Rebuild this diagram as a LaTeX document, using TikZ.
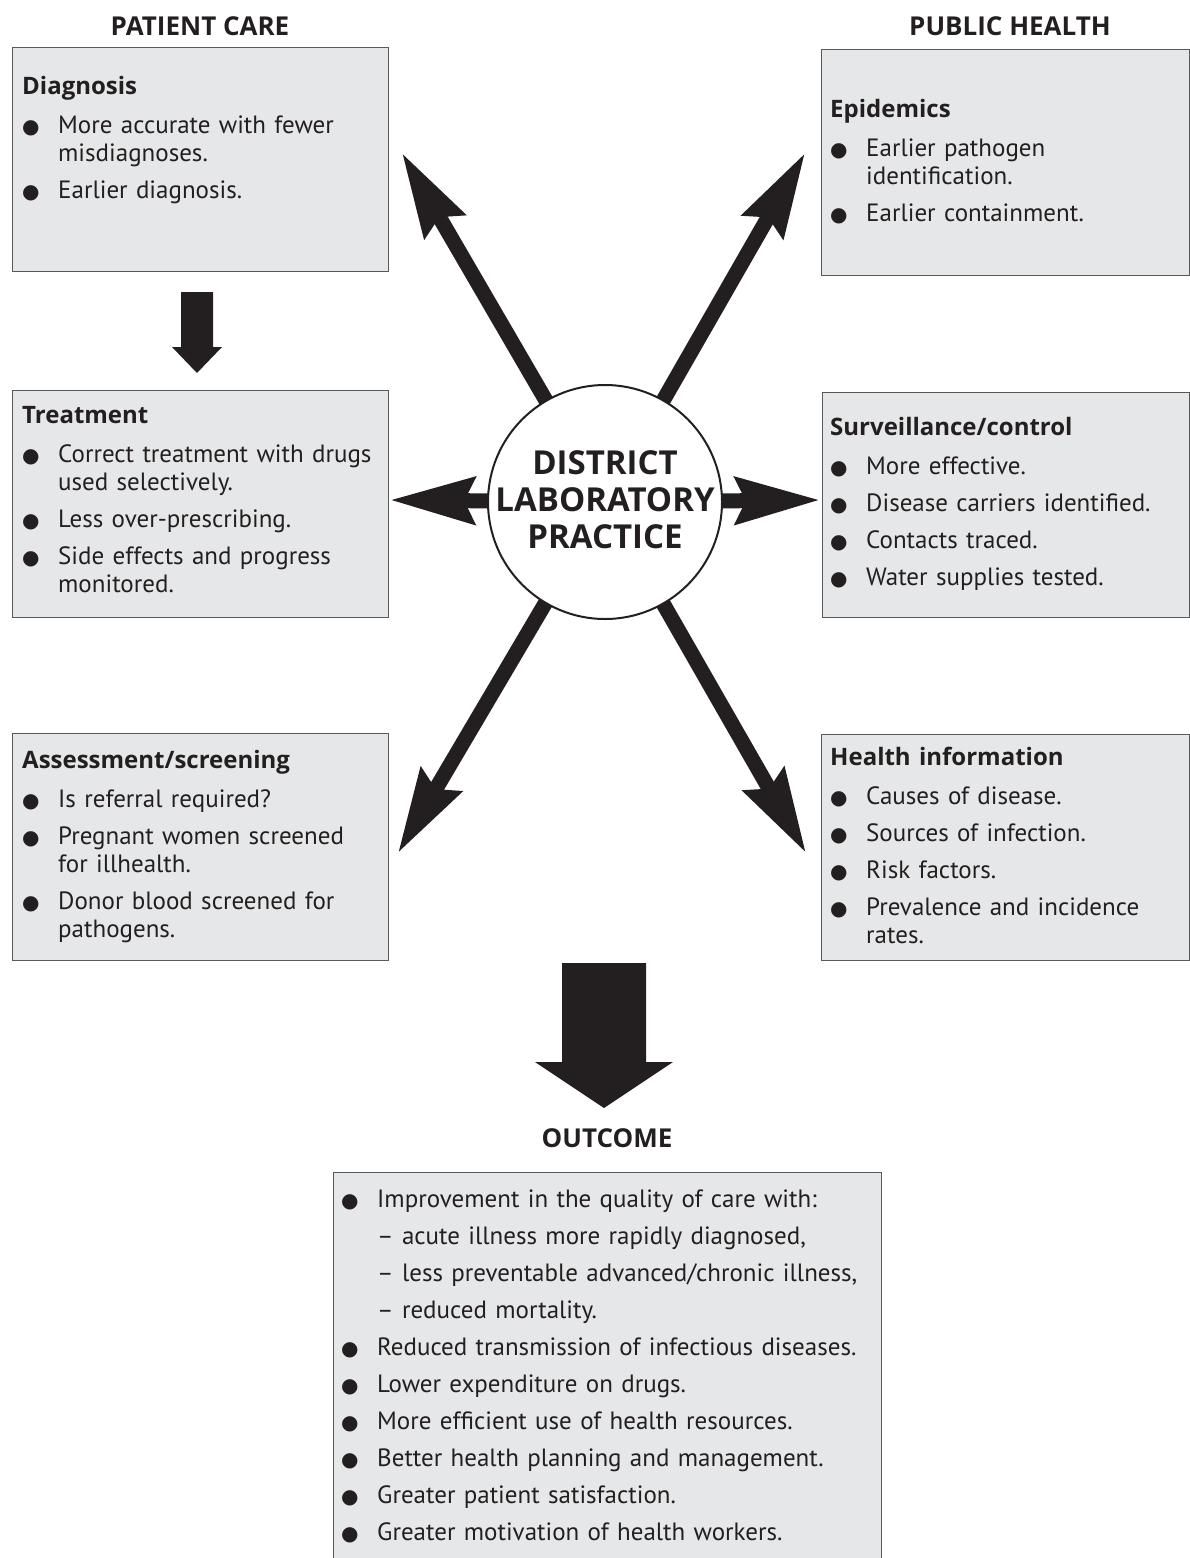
\documentclass[tikz,border=0pt]{standalone}
\usepackage{fontspec}
\setmainfont{PT Sans}
\newfontfamily\headfont{Open Sans}
\newfontfamily\symfont{DejaVu Sans}
\usetikzlibrary{arrows.meta,positioning,backgrounds}

\definecolor{ink}{HTML}{231F20}
\definecolor{panelgray}{HTML}{E6E7E8}
\definecolor{rim}{HTML}{58595B}

\newcommand{\bul}{{\symfont\fontsize{20}{20}\selectfont ●}}
\newcommand{\blabel}[1]{#1\hfil}
\newcommand{\hd}[1]{{\headfont\bfseries\fontsize{24}{28}\selectfont #1}\par\vspace{11pt}}
\newenvironment{blist}[1][9pt]{\begin{list}{\bul}{\setlength{\leftmargin}{36pt}%
  \setlength{\labelwidth}{36pt}\setlength{\labelsep}{0pt}\setlength{\itemsep}{#1}%
  \setlength{\parsep}{0pt}\setlength{\topsep}{0pt}\setlength{\partopsep}{0pt}%
  \let\makelabel\blabel}}{\end{list}}

\tikzset{
  panel/.style={draw=rim, fill=panelgray, line width=1.3pt, anchor=north west, inner sep=0pt},
  body/.style={anchor=base west, inner sep=0pt, text width=#1, align=left, text=ink,
    font=\fontsize{25}{28}\selectfont},
  body/.default=370pt,
  title/.style={anchor=base, inner sep=0pt, text=ink, font=\headfont\bfseries\fontsize{26}{28}\selectfont},
  hub/.style={circle, draw=ink, line width=2pt, fill=white, minimum size=234pt, inner sep=0pt},
  spoke/.style={ink, line width=15pt, -{Stealth[length=84pt,width=46pt,inset=10pt]}},
  block/.style={fill=ink}
}

\begin{document}
\begin{tikzpicture}[x=1pt,y=-1pt]
\useasboundingbox (0,0) rectangle (1190,1558);

%titles
\node[title] (pc) at (200,35) {PATIENT CARE};
\node[title] (ph) at (1010,35) {PUBLIC HEALTH};
\node[title] (oc) at (607,1147) {OUTCOME};

%patient care panels
\node[panel, minimum width=376pt, minimum height=224pt] (diag) at (12,47) {};
\node[body] (diagtxt) at (22,94) {\hd{Diagnosis}
\begin{blist}
\item More accurate with fewer\newline misdiagnoses.
\item Earlier diagnosis.
\end{blist}};

\node[panel, minimum width=376pt, minimum height=227pt] (treat) at (12,390) {};
\node[body] (treattxt) at (22,423) {\hd{Treatment}
\begin{blist}
\item Correct treatment with drugs\newline used selectively.
\item Less over-prescribing.
\item Side effects and progress\newline monitored.
\end{blist}};

\node[panel, minimum width=376pt, minimum height=227pt] (assess) at (12,733) {};
\node[body] (assesstxt) at (22,768) {\hd{Assessment/screening}
\begin{blist}
\item Is referral required?
\item Pregnant women screened\newline for illhealth.
\item Donor blood screened for\newline pathogens.
\end{blist}};

%public health panels
\node[panel, minimum width=368pt, minimum height=226pt] (epid) at (821,49) {};
\node[body] (epidtxt) at (830,117) {\hd{Epidemics}
\begin{blist}
\item Earlier pathogen\newline identification.
\item Earlier containment.
\end{blist}};

\node[panel, minimum width=367pt, minimum height=225pt] (surv) at (822,392) {};
\node[body] (survtxt) at (830,435) {\hd{Surveillance/control}
\begin{blist}
\item More effective.
\item Disease carriers identified.
\item Contacts traced.
\item Water supplies tested.
\end{blist}};

\node[panel, minimum width=368pt, minimum height=226pt] (health) at (821,734) {};
\node[body] (healthtxt) at (830,765) {\hd{Health information}
\begin{blist}
\item Causes of disease.
\item Sources of infection.
\item Risk factors.
\item Prevalence and incidence\newline rates.
\end{blist}};

%outcome (list starts the box, so its base sits one line above the first row)
\node[panel, minimum width=548pt, minimum height=386pt] (out) at (333,1172) {};
\node[body=530pt, font=\fontsize{25}{37}\selectfont] (outtxt) at (341,1170) {%
\begin{blist}[0pt]
\item Improvement in the quality of care with:\newline
  – acute illness more rapidly diagnosed,\newline
  – less preventable advanced/chronic illness,\newline
  – reduced mortality.
\item Reduced transmission of infectious diseases.
\item Lower expenditure on drugs.
\item More efficient use of health resources.
\item Better health planning and management.
\item Greater patient satisfaction.
\item Greater motivation of health workers.
\end{blist}};

%centre
\node[hub] (hub) at (605,502) {};
\node[text=ink, align=center, font=\headfont\bfseries\fontsize{33}{37}\selectfont] (hubtxt) at (605,500) {DISTRICT\\LABORATORY\\PRACTICE};

%tips
\coordinate (tUL) at (402,153);
\coordinate (tUR) at (805,153);
\coordinate (tL) at (390,500);
\coordinate (tR) at (820,500);
\coordinate (tLL) at (398,853);
\coordinate (tLR) at (806,853);

\begin{scope}[on background layer]
\foreach \t in {tUL,tUR,tL,tR,tLL,tLR}
  \draw[spoke] (hub.center) -- (\t);
\end{scope}

%block arrows
\coordinate (dn) at (197,292);
\fill[block] (dn) ++(-16,0) -- ++(32,0) -- ++(0,55) -- ++(9,0) -- ++(-25,26) -- ++(-25,-26) -- ++(9,0) -- cycle;
\coordinate (bigdn) at (604,963);
\fill[block] (bigdn) ++(-42,0) -- ++(84,0) -- ++(0,99) -- ++(27,0) -- ++(-69,46) -- ++(-69,-46) -- ++(27,0) -- cycle;
\end{tikzpicture}
\end{document}
